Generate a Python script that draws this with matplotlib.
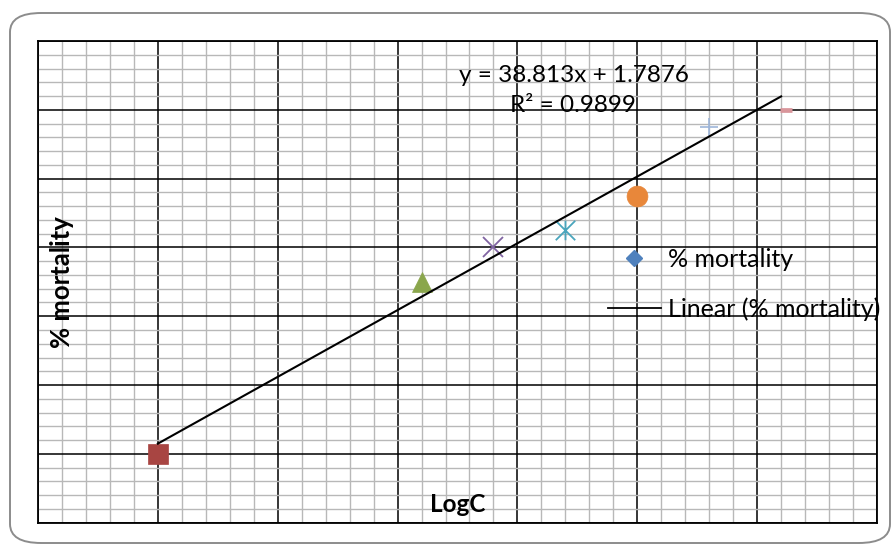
import numpy as np
import matplotlib.pyplot as plt
from matplotlib.path import Path
from matplotlib.patches import FancyBboxPatch
from matplotlib.lines import Line2D

# data (LogC vs % mortality)
log_c = [0.25, 0.80, 0.95, 1.10, 1.25, 1.40, 1.56]
mortality = [10.0, 35.0, 40.0, 42.5, 47.5, 57.5, 60.0]

# trendline as printed on the chart
slope = 38.813
intercept = 1.7876
r2 = 0.9899

# excel "vary colours by point" look
star = Path([(-1, -1), (1, 1), (-1, 1), (1, -1), (0, -1), (0, 1)],
            [Path.MOVETO, Path.LINETO, Path.MOVETO, Path.LINETO, Path.MOVETO, Path.LINETO])
point_colors = ['#A84542', '#8AA64C', '#8064A2', '#4AA5BD', '#E8873A', '#9DB5D9', '#D8959A']
point_markers = ['s', '^', 'x', star, 'o', '+', '_']
point_sizes = [14.5, 15, 14, 14, 15, 13, 8]
point_mew = [0.5, 0.5, 1.3, 1.3, 0.5, 1.2, 3.4]

W, H = 893, 544
fig = plt.figure(figsize=(W / 100, H / 100), dpi=100)
plt.rcParams['font.family'] = ['Lato', 'DejaVu Sans']


def fx(x):
    return x / W


def fy(y):
    return 1 - y / H


# rounded chart border
fig.patches.append(FancyBboxPatch((fx(10), fy(543)), fx(880), 530 / H,
                                  boxstyle='round,pad=0,rounding_size=0.035',
                                  transform=fig.transFigure, fill=False,
                                  edgecolor='#8c8c8c', linewidth=1.4))

ax = fig.add_axes([fx(38), fy(522.7), fx(877 - 38), (522.7 - 41) / H])
ax.set_xlim(0, 1.75)
ax.set_ylim(0, 70)
ax.set_xticks(np.arange(0, 1.76, 0.25))
ax.set_yticks(np.arange(0, 71, 10))
ax.set_xticks(np.arange(0, 1.76, 0.05), minor=True)
ax.set_yticks(np.arange(0, 71, 2), minor=True)
ax.tick_params(which='both', length=0, labelbottom=False, labelleft=False)
ax.grid(which='minor', color='#b8b8b8', linewidth=1.0)
ax.grid(which='major', color='black', linewidth=1.1)
ax.set_axisbelow(True)
for s in ax.spines.values():
    s.set_linewidth(1.3)

for i in range(len(log_c)):
    ax.plot(log_c[i], mortality[i], linestyle='none', marker=point_markers[i],
            markersize=point_sizes[i], color=point_colors[i],
            markeredgecolor=point_colors[i], markeredgewidth=point_mew[i], zorder=4)

# linear trendline over the data range
xs = np.array([min(log_c), 1.55])
ax.plot(xs, slope * xs + intercept, color='black', linewidth=1.5, zorder=5)

fs = 17.5
fig.text(fx(574), fy(76), f'y = {slope}x + {intercept}', ha='center', va='center', fontsize=fs)
fig.text(fx(573), fy(106), f'R² = {r2}', ha='center', va='center', fontsize=fs)

handles = [Line2D([], [], linestyle='none', marker='D', markersize=8.5, color='#4F81BD'),
           Line2D([], [], color='black', linewidth=1.3)]
ax.legend(handles, ['% mortality', 'Linear (% mortality)'], frameon=False, fontsize=18,
          loc='upper left', bbox_to_anchor=(fx(608), fy(248)), bbox_transform=fig.transFigure,
          borderpad=0, borderaxespad=0, handlelength=2.1, handletextpad=0.3, labelspacing=1.05)

fig.text(fx(62), fy(282), '% mortality', rotation=90, ha='center', va='center',
         fontsize=18.5, fontweight='bold')
fig.text(fx(458), fy(505), 'LogC', ha='center', va='center', fontsize=17.5, fontweight='bold')

fig.savefig('out.png', dpi=100)
